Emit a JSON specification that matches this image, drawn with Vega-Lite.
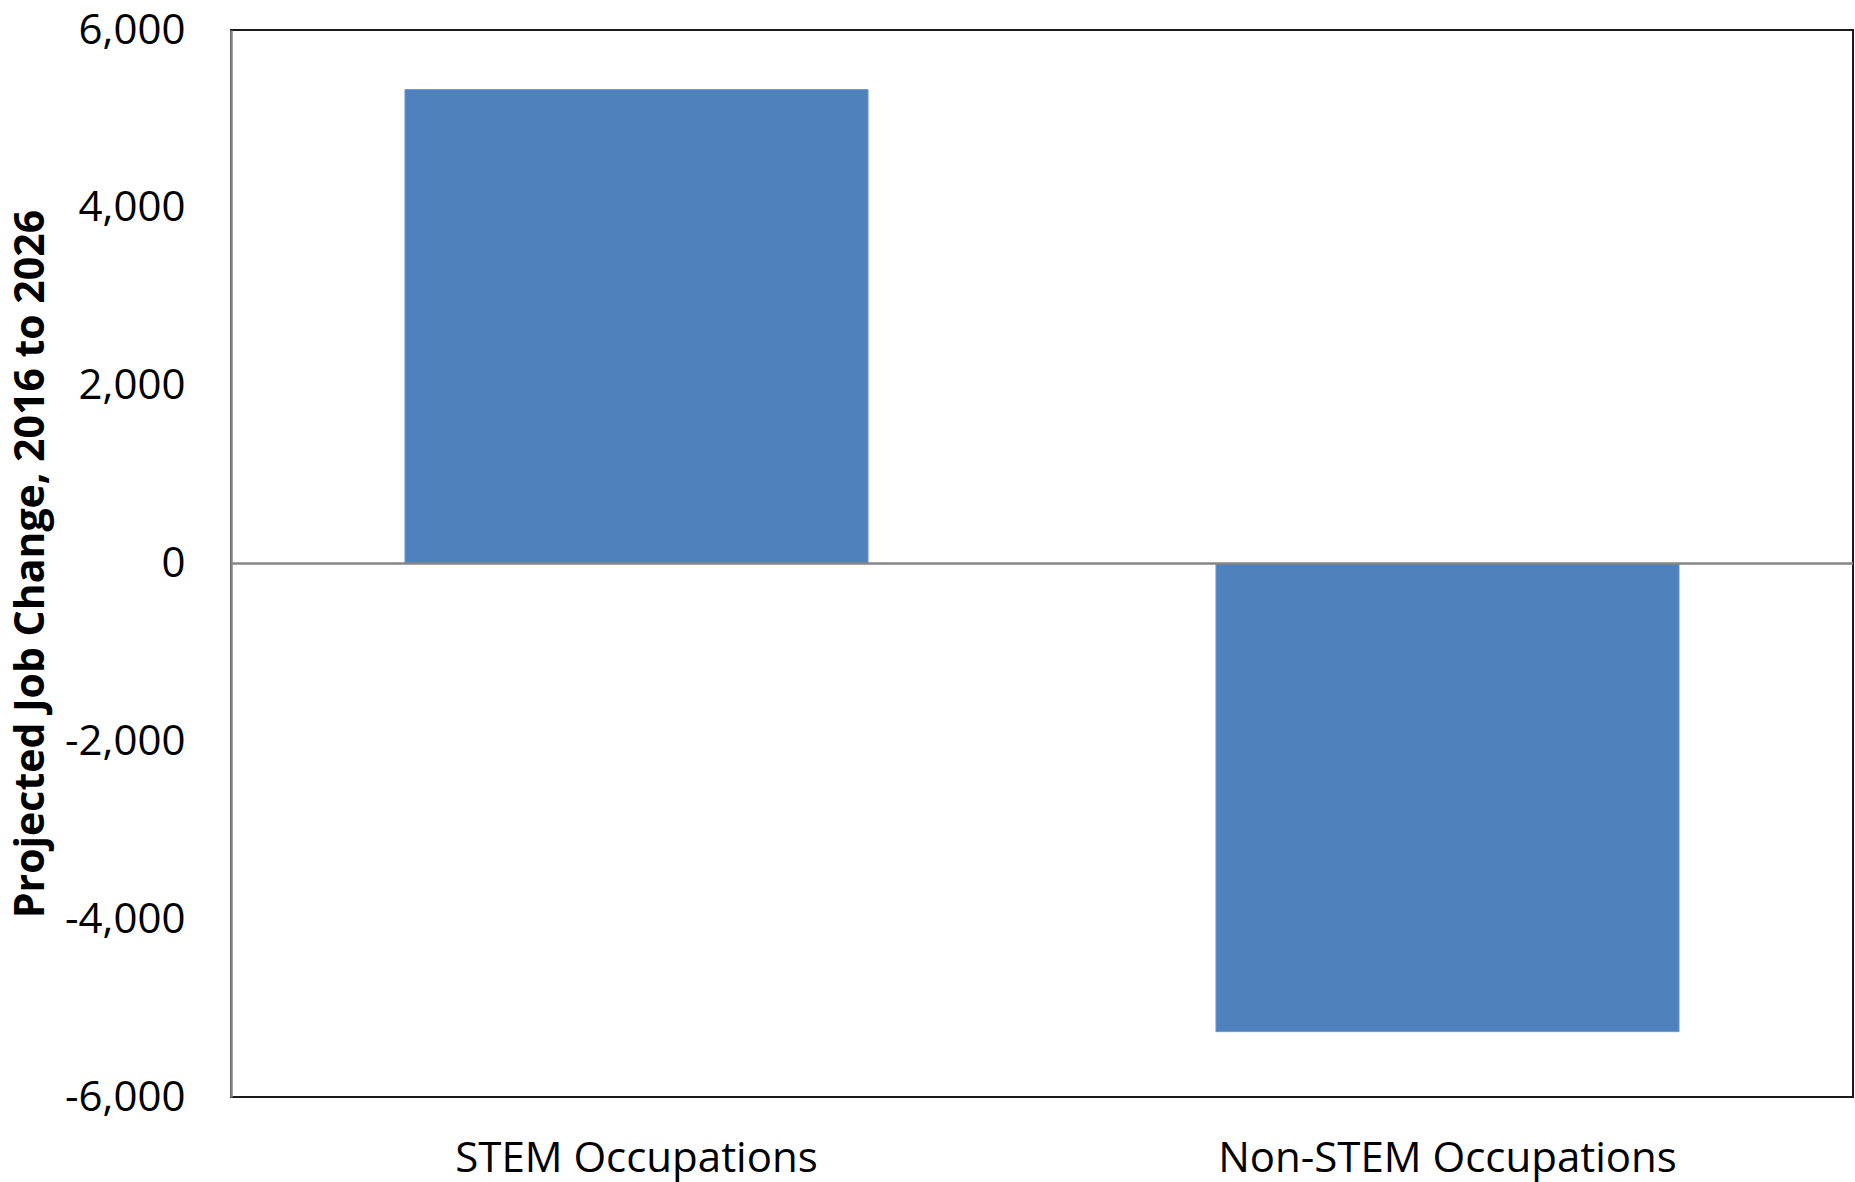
{
  "$schema": "https://vega.github.io/schema/vega-lite/v6.json",
  "width": 1622,
  "height": 1067,
  "autosize": {"type": "none"},
  "padding": {"left": 231, "top": 30, "right": 2, "bottom": 85},
  "background": "white",
  "config": {
    "view": {"stroke": "#1a1a1a", "strokeWidth": 2},
    "font": "Open Sans",
    "locale": {
      "number": {"decimal": ".", "thousands": ",", "grouping": [3], "currency": ["$", ""], "minus": "-"}
    }
  },
  "data": {
    "values": [
      {"category": "STEM Occupations", "change": 5330},
      {"category": "Non-STEM Occupations", "change": -5265}
    ]
  },
  "layer": [
    {
      "mark": {"type": "bar", "color": "#4F81BD", "stroke": "#6f9bd0", "strokeWidth": 1},
      "encoding": {
        "x": {
          "field": "category",
          "type": "nominal",
          "sort": null,
          "scale": {"paddingInner": 0.429, "paddingOuter": 0.2145},
          "axis": {
            "title": null,
            "labelAngle": 0,
            "domain": false,
            "ticks": false,
            "tickSize": 0,
            "labelPadding": 41,
            "labelLimit": 1000,
            "labelFont": "Open Sans",
            "labelFontSize": 42,
            "labelColor": "#000000"
          }
        },
        "y": {
          "field": "change",
          "type": "quantitative",
          "scale": {"domain": [-6000, 6000], "nice": false},
          "axis": {
            "title": "Projected Job Change, 2016 to 2026",
            "titleFont": "Open Sans",
            "titleFontSize": 41,
            "titleFontWeight": "bold",
            "titleColor": "#000000",
            "titlePadding": 12,
            "values": [-6000, -4000, -2000, 0, 2000, 4000, 6000],
            "format": ",d",
            "grid": false,
            "ticks": false,
            "tickSize": 0,
            "labelPadding": 46,
            "labelFont": "Open Sans",
            "labelFontSize": 42,
            "labelColor": "#000000",
            "domainColor": "#868686",
            "domainWidth": 2.5
          }
        }
      }
    },
    {
      "mark": {"type": "rule", "color": "#868686", "strokeWidth": 2},
      "encoding": {"y": {"datum": 0}}
    }
  ]
}
